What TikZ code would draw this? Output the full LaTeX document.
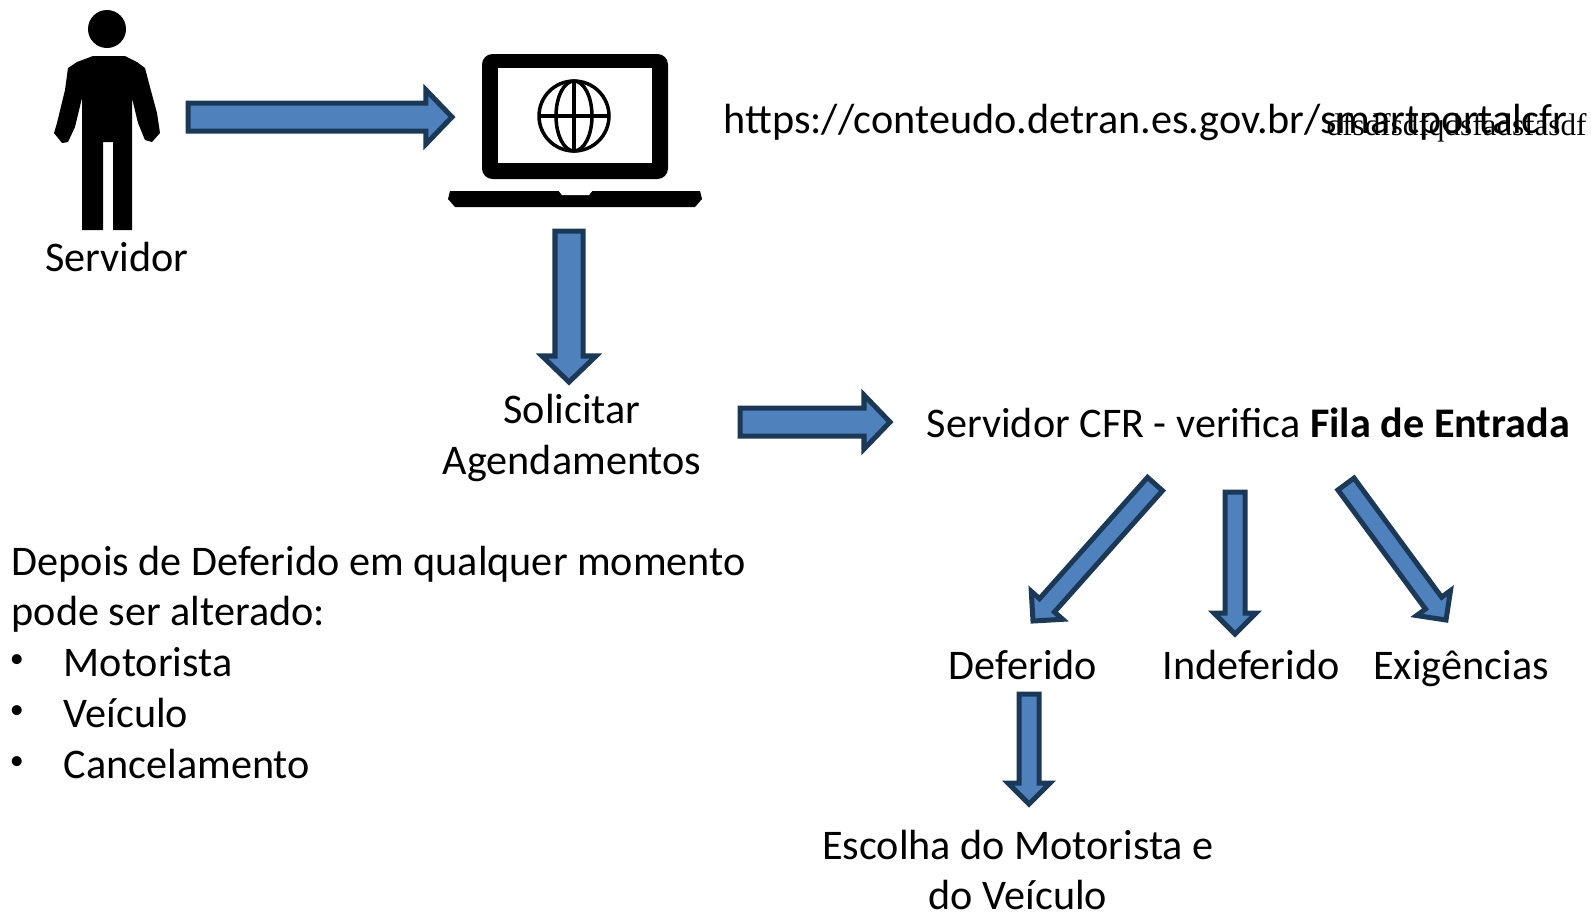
\documentclass[tikz,border=0pt]{standalone}
\usepackage{fontspec}
\setmainfont{Carlito}
\newfontfamily\oldserif{Liberation Serif}
\usetikzlibrary{calc}

\definecolor{arrowfill}{HTML}{4F81BD}
\definecolor{arrowline}{HTML}{1C3857}

\tikzset{
    label text/.style={inner sep=0pt, font=\fontsize{12}{14.4}\selectfont},
    block arrow/.style n args={3}{draw=arrowline, fill=arrowfill, line width=0.05cm, miter limit=10, to path={
        coordinate (neck) at ($(\tikztotarget)!#1!(\tikztostart)$)
        ($(\tikztostart)!#2!-90:(\tikztotarget)$)
        -- ($(neck)!#2!-90:(\tikztotarget)$)
        -- ($(neck)!#3!-90:(\tikztotarget)$)
        -- (\tikztotarget)
        -- ($(neck)!#3!90:(\tikztotarget)$)
        -- ($(neck)!#2!90:(\tikztotarget)$)
        -- ($(\tikztostart)!#2!90:(\tikztotarget)$)
        -- cycle}},
    wide arrow/.style={block arrow={0.26cm}{0.14cm}{0.27cm}},
    thin arrow/.style={block arrow={0.21cm}{0.10cm}{0.21cm}}
}

\begin{document}
\begin{tikzpicture}[x=0.01cm, y=-0.01cm]
        \useasboundingbox (0,0) rectangle (1591,911);

        % person
        \fill (107,29) circle [radius=19];
        \fill (93,56) -- (125,56) -- (137,62) -- (145,68) -- (150,87) -- (157,113) -- (160,133)
            -- (152,142) -- (145,140) -- (138,123) -- (132,98) -- (132,230) -- (113,230)
            -- (113,142) -- (103,142) -- (103,230) -- (82,230) -- (82,98) -- (75,127)
            -- (68,142) -- (62,143) -- (54,133) -- (57,123) -- (65,90) -- (68,68) -- (77,62) -- cycle;

        % laptop
        \fill [rounded corners=3] (482,54) rectangle (668,179);
        \fill [white] (498,68) rectangle (652,163);
        \fill (450,191) -- (700,191) -- (702,199) -- (695,207) -- (455,207) -- (448,199) -- cycle;
        \fill [white] (558,190) -- (593,190) -- (589,195) -- (562,195) -- cycle;
        \begin{scope}[line width=0.035cm]
            \draw (574,116) circle [radius=35];
            \draw (574,116) ellipse [x radius=18, y radius=35];
            \draw (574,81) -- (574,151);
            \draw (539,116) -- (609,116);
        \end{scope}

        % labels
        \node [label text] (servidor) at (117,257) {Servidor};
        \node [label text, anchor=base west] (url) at (723,133) {https://conteudo.detran.es.gov.br/smartportalcfr};
        \node [inner sep=0pt, anchor=base west, font=\oldserif\fontsize{8.87}{11}\selectfont] (stray) at (1326,135) {dfsdfsdfqdsfadsfasdf};
        \node [label text, align=center] (solicitar) at (572,438) {Solicitar\\Agendamentos};
        \node [label text, anchor=base west] (fila) at (926,437.5) {Servidor CFR - verifica \textbf{Fila de Entrada}};
        \node [label text, anchor=base] (deferido) at (1023,679.5) {Deferido};
        \node [label text, anchor=base] (indeferido) at (1251,679.5) {Indeferido};
        \node [label text, anchor=base] (exigencias) at (1461,679.5) {Exigências};
        \node [label text, align=center] (escolha) at (1018,870) {Escolha do Motorista e\\do Veículo};

        \node [label text, anchor=base west] (depois) at (11,575) {Depois de Deferido em qualquer momento};
        \node [label text, anchor=base west] (pode) at (11,625) {pode ser alterado:};
        \foreach \name/\txt/\y in {motorista/Motorista/676, veiculo/Veículo/727, cancelamento/Cancelamento/778} {
            \node [label text, anchor=base west] (\name) at (63,\y) {\txt};
            \node [inner sep=0pt, font=\fontsize{8}{9}\selectfont] (bullet\name) at (17,\y-15) {•};
        };

        % arrows
        \coordinate (a1) at (188,117);  \coordinate (b1) at (452,117);
        \coordinate (a2) at (569,231);  \coordinate (b2) at (569,382);
        \coordinate (a3) at (740,422);  \coordinate (b3) at (890,422);
        \coordinate (a4) at (1155,484); \coordinate (b4) at (1033,621);
        \coordinate (a5) at (1235,492); \coordinate (b5) at (1235,634);
        \coordinate (a6) at (1346,484); \coordinate (b6) at (1446,620);
        \coordinate (a7) at (1029,694); \coordinate (b7) at (1029,804);

        \foreach \i in {1,2,3} {
            \draw [wide arrow] (a\i) to (b\i);
        };
        \foreach \i in {4,...,7} {
            \draw [thin arrow] (a\i) to (b\i);
        };
\end{tikzpicture}
\end{document}
